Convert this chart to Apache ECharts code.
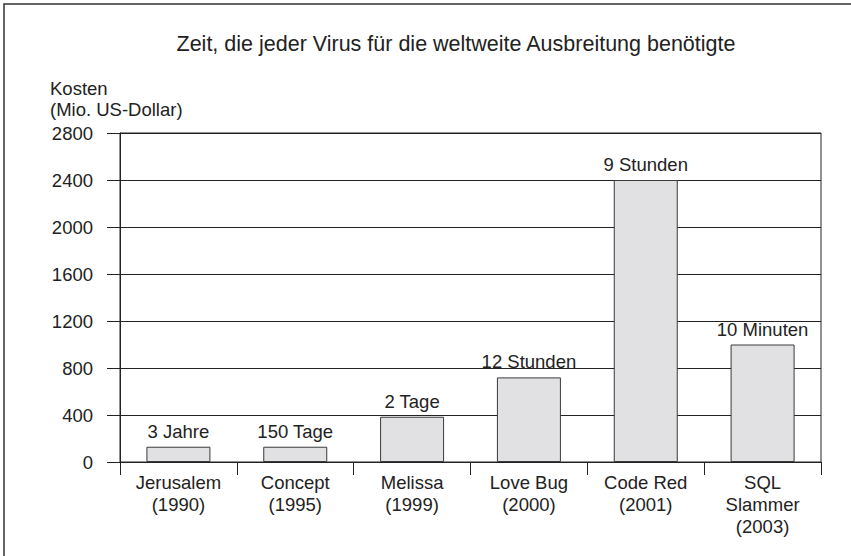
<!DOCTYPE html>
<html>
<head>
<meta charset="utf-8">
<script src="https://cdn.jsdelivr.net/npm/echarts@6/dist/echarts.min.js"></script>
<style>
html,body{margin:0;padding:0;background:#fff;}
#chart{width:851px;height:556px;}
</style>
</head>
<body>
<div id="chart"></div>
<script>
// ---- data ----
const titleText = "Zeit, die jeder Virus für die weltweite Ausbreitung benötigte";
const yAxisTitle = "Kosten\n(Mio. US-Dollar)";
const virusNames = ["Jerusalem", "Concept", "Melissa", "Love Bug", "Code Red", "SQL\nSlammer"];
const virusYears = ["1990", "1995", "1999", "2000", "2001", "2003"];
const costs = [130, 130, 385, 720, 2400, 1000];
const spreadTimes = ["3 Jahre", "150 Tage", "2 Tage", "12 Stunden", "9 Stunden", "10 Minuten"];
const yTicks = [0, 400, 800, 1200, 1600, 2000, 2400, 2800];

const FONT = "'Liberation Sans', Arial, Helvetica, sans-serif";
const TXT = "#222";
const categories = virusNames.map((n, i) => n + "\n(" + virusYears[i] + ")");

const chart = echarts.init(document.getElementById('chart'), null, {renderer: 'svg'});
chart.setOption({
  animation: false,
  backgroundColor: '#fff',
  textStyle: {fontFamily: FONT},
  grid: {left: 120, right: 30, top: 133, bottom: 94, show: true, borderColor: '#222', borderWidth: 1, backgroundColor: 'transparent'},
  graphic: [
    {type: 'rect', x: 4, y: 4, shape: {x: 0, y: 0, width: 860, height: 570},
     style: {fill: 'none', stroke: '#333', lineWidth: 1.5}, silent: true, z: 100},
    {type: 'text', x: 456, y: 33,
     style: {text: titleText, font: "21.5px " + FONT, fill: TXT, textAlign: 'center', textVerticalAlign: 'top'}},
    {type: 'text', x: 50, y: 78,
     style: {text: yAxisTitle, font: "18.5px " + FONT, fill: TXT, lineHeight: 21}}
  ],
  xAxis: {
    type: 'category',
    data: categories,
    boundaryGap: true,
    axisLine: {show: true, lineStyle: {color: '#222', width: 1}},
    axisTick: {show: true, length: 13, alignWithLabel: false, lineStyle: {color: '#222'}},
    axisLabel: {color: TXT, fontSize: 18.5, fontFamily: FONT, lineHeight: 22, margin: 9, interval: 0},
    splitLine: {show: false}
  },
  yAxis: {
    type: 'value',
    min: yTicks[0],
    max: yTicks[yTicks.length - 1],
    interval: yTicks[1] - yTicks[0],
    axisLine: {show: true, lineStyle: {color: '#222', width: 1}},
    axisTick: {show: true, length: 13, lineStyle: {color: '#222'}},
    axisLabel: {color: TXT, fontSize: 18.5, fontFamily: FONT, margin: 27, formatter: v => String(v)},
    splitLine: {show: true, lineStyle: {color: '#222', width: 1}}
  },
  series: [{
    type: 'bar',
    data: costs,
    barWidth: 64,
    itemStyle: {color: '#e1e1e3', borderColor: '#3a3a3a', borderWidth: 1},
    label: {
      show: true, position: 'top', distance: 6,
      color: TXT, fontSize: 18.5, fontFamily: FONT,
      formatter: p => spreadTimes[p.dataIndex]
    },
    z: 3
  }]
});
</script>
</body>
</html>
